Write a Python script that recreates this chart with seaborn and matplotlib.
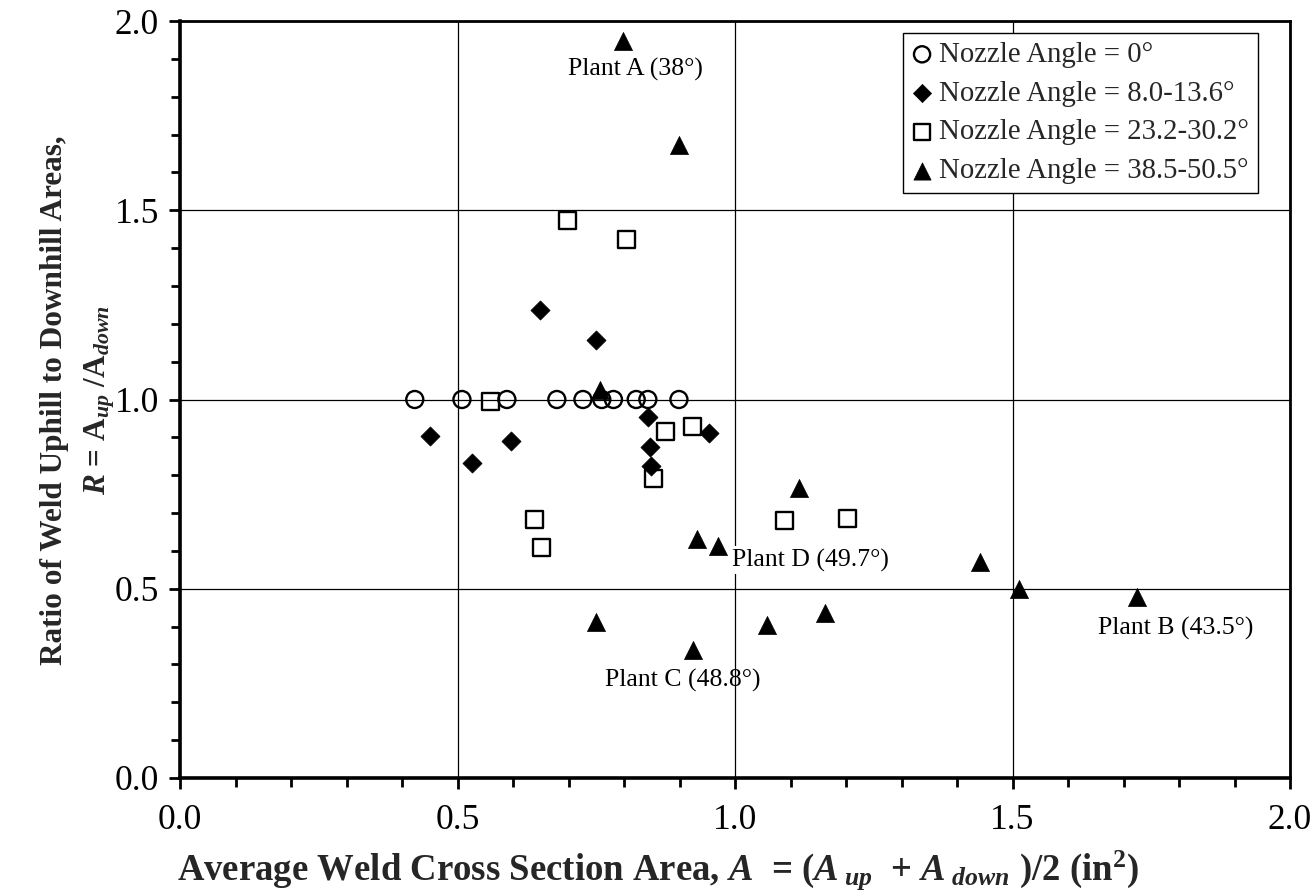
import matplotlib
matplotlib.use("Agg")
import matplotlib.pyplot as plt
from matplotlib.ticker import MultipleLocator, FormatStrFormatter
import seaborn as sns
import pandas as pd

# Weld area measurements grouped by nozzle angle
angle0_x = [0.423, 0.508, 0.589, 0.679, 0.726, 0.760, 0.781, 0.822, 0.843, 0.899]
angle0_y = [1.0, 1.0, 1.0, 1.0, 1.0, 1.0, 1.0, 1.0, 1.0, 1.0]

angle8_x = [0.450, 0.526, 0.596, 0.649, 0.750, 0.844, 0.846, 0.848, 0.954]
angle8_y = [0.904, 0.831, 0.891, 1.236, 1.157, 0.953, 0.875, 0.824, 0.911]

angle23_x = [0.560, 0.639, 0.651, 0.698, 0.804, 0.854, 0.874, 0.923, 1.089, 1.203]
angle23_y = [0.995, 0.682, 0.609, 1.474, 1.424, 0.792, 0.915, 0.928, 0.680, 0.685]

angle38_x = [0.750, 0.756, 0.799, 0.899, 0.924, 0.931, 0.970, 1.057, 1.116, 1.163,
             1.441, 1.512, 1.725]
angle38_y = [0.413, 1.025, 1.948, 1.672, 0.338, 0.631, 0.613, 0.404, 0.765, 0.437,
             0.571, 0.499, 0.479]

series_labels = ["Nozzle Angle = 0°", "Nozzle Angle = 8.0-13.6°",
                 "Nozzle Angle = 23.2-30.2°", "Nozzle Angle = 38.5-50.5°"]

plant_labels = ["Plant A (38°)", "Plant B (43.5°)", "Plant C (48.8°)", "Plant D (49.7°)"]

sns.set_theme(style="white")
plt.rcParams["font.family"] = ["Liberation Serif", "DejaVu Serif"]
plt.rcParams["mathtext.fontset"] = "custom"
plt.rcParams["mathtext.rm"] = "Liberation Serif"
plt.rcParams["mathtext.it"] = "Liberation Serif:italic"
plt.rcParams["mathtext.bf"] = "Liberation Serif:bold"
try:
    plt.rcParams["mathtext.bfit"] = "Liberation Serif:bold:italic"
except KeyError:
    pass

fig = plt.figure(figsize=(13.16, 8.92), dpi=100)
ax = fig.add_axes([180 / 1316, 1 - 778 / 892, 1110 / 1316, 757 / 892])

frames = []
for xs, ys, lab in [(angle0_x, angle0_y, series_labels[0]),
                    (angle8_x, angle8_y, series_labels[1]),
                    (angle23_x, angle23_y, series_labels[2]),
                    (angle38_x, angle38_y, series_labels[3])]:
    frames.append(pd.DataFrame({"A": xs, "R": ys, "group": lab}))
df = pd.concat(frames, ignore_index=True)

styles = {
    series_labels[0]: dict(marker="o", s=150, facecolor="none", edgecolor="black", linewidth=1.7),
    series_labels[1]: dict(marker="D", s=95, facecolor="black", edgecolor="black", linewidth=0.5),
    series_labels[2]: dict(marker="s", s=150, facecolor="none", edgecolor="black", linewidth=1.7),
    series_labels[3]: dict(marker="^", s=170, facecolor="black", edgecolor="black", linewidth=0.5),
}

for lab in series_labels:
    sub = df[df["group"] == lab]
    sns.scatterplot(data=sub, x="A", y="R", ax=ax, label=lab, zorder=3, **styles[lab])

ax.set_xlim(0, 2.0)
ax.set_ylim(0, 2.0)
ax.xaxis.set_major_locator(MultipleLocator(0.5))
ax.yaxis.set_major_locator(MultipleLocator(0.5))
ax.xaxis.set_minor_locator(MultipleLocator(0.1))
ax.yaxis.set_minor_locator(MultipleLocator(0.1))
ax.xaxis.set_major_formatter(FormatStrFormatter("%.1f"))
ax.yaxis.set_major_formatter(FormatStrFormatter("%.1f"))
ax.grid(True, which="major", color="black", linewidth=0.9)
ax.set_axisbelow(True)

ax.tick_params(which="both", direction="out", bottom=True, left=True, top=False, right=False,
               colors="black", labelsize=25.5, width=2)
ax.tick_params(which="major", length=8)
ax.tick_params(which="minor", length=6.5)
ax.tick_params(axis="x", which="major", pad=11)
ax.tick_params(axis="y", which="major", pad=7)

for side in ["left", "bottom"]:
    ax.spines[side].set_linewidth(2.6)
    ax.spines[side].set_color("black")
for side in ["top", "right"]:
    ax.spines[side].set_linewidth(2.0)
    ax.spines[side].set_color("black")

ax.set_xlabel("")
ax.set_ylabel("")

# Annotations for individual plants
ax.text(0.820, 1.871, plant_labels[0], ha="center", va="center", fontsize=18.5, color="black")
ax.text(1.794, 0.395, plant_labels[1], ha="center", va="center", fontsize=18.5, color="black")
ax.text(0.906, 0.259, plant_labels[2], ha="center", va="center", fontsize=18.5, color="black")
ax.text(0.995, 0.576, plant_labels[3], ha="left", va="center", fontsize=18.5, color="black",
        bbox=dict(facecolor="white", edgecolor="none", pad=2), zorder=4)

leg = ax.legend(loc="upper right", bbox_to_anchor=(0.971, 0.984), borderaxespad=0,
                fontsize=20.7, frameon=True, fancybox=False, edgecolor="black",
                handlelength=0.7, handletextpad=0.25, labelspacing=0.44, borderpad=0.3,
                markerscale=0.95, framealpha=1)
leg.get_frame().set_linewidth(1.0)

# Axis titles
fig.text(0.5, 1 - 880 / 892,
         r"Average Weld Cross Section Area, $\mathbfit{A}$  = ($\mathbfit{A}_{\ \mathbfit{up}}$  + "
         r"$\mathbfit{A}_{\ \mathbfit{down}}$ )/2 (in$^{\mathbf{2}}$)",
         ha="center", va="baseline", fontsize=26.5, fontweight="bold")
fig.text(55 / 1316, 1 - 400 / 892, "Ratio of Weld Uphill to Downhill Areas,",
         ha="center", va="center", rotation=90, fontsize=22.5, fontweight="bold")
fig.text(100 / 1316, 1 - 400 / 892,
         r"$\mathbfit{R}$ = A$_{\mathbfit{up}}$ /A$_{\mathbfit{down}}$",
         ha="center", va="center", rotation=90, fontsize=22.5, fontweight="bold")

fig.savefig("out.png", dpi=100, facecolor="white")
